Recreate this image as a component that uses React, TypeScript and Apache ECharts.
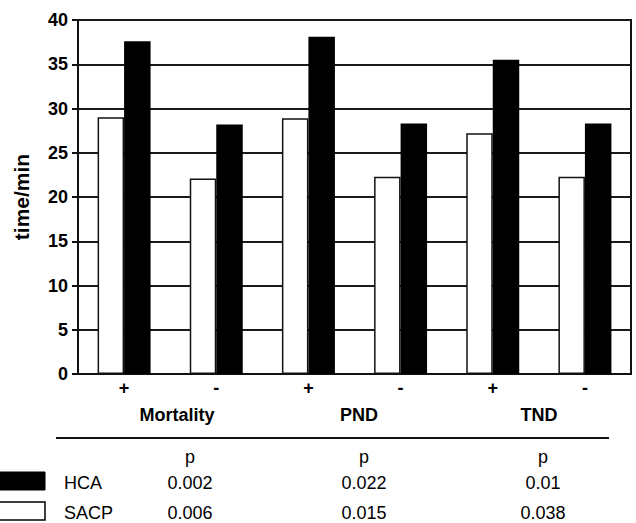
import React, { useEffect, useRef } from "react";
import * as echarts from "echarts";

const categories = ["+", "-", "+", "-", "+", "-"];
const groups = ["Mortality", "PND", "TND"];
const seriesNames = ["SACP", "HCA"];
const sacpValues = [29.0, 22.1, 28.9, 22.3, 27.2, 22.3];
const hcaValues = [37.6, 28.2, 38.1, 28.3, 35.5, 28.3];
const pHeader = ["p", "p", "p"];
const pHCA = ["0.002", "0.022", "0.01"];
const pSACP = ["0.006", "0.015", "0.038"];
const yTicks = { min: 0, max: 40, interval: 5 };

const FONT = "'Liberation Sans', Arial, sans-serif";

export default function App() {
  const ref = useRef<HTMLDivElement>(null);
  useEffect(() => {
    if (!ref.current) return;
    const chart = echarts.init(ref.current, null, { renderer: "svg" });
    const groupX = [177, 359, 539];
    const valX = [190, 364, 543];
    const graphics: any[] = [];
    groups.forEach((g, i) => {
      graphics.push({
        type: "text",
        x: groupX[i],
        y: 415,
        style: { text: g, font: `bold 18px ${FONT}`, fill: "#000", textAlign: "center", textVerticalAlign: "middle" },
      });
      graphics.push({
        type: "text",
        x: valX[i],
        y: 457,
        style: { text: pHeader[i], font: `18px ${FONT}`, fill: "#000", textAlign: "center", textVerticalAlign: "middle" },
      });
      graphics.push({
        type: "text",
        x: valX[i],
        y: 483,
        style: { text: pHCA[i], font: `18px ${FONT}`, fill: "#000", textAlign: "center", textVerticalAlign: "middle" },
      });
      graphics.push({
        type: "text",
        x: valX[i],
        y: 513,
        style: { text: pSACP[i], font: `18px ${FONT}`, fill: "#000", textAlign: "center", textVerticalAlign: "middle" },
      });
    });
    graphics.push({
      type: "line",
      shape: { x1: 56, y1: 438, x2: 609, y2: 438 },
      style: { stroke: "#111", lineWidth: 2 },
    });
    graphics.push({
      type: "text",
      x: 64,
      y: 483,
      style: { text: seriesNames[1], font: `18px ${FONT}`, fill: "#000", textAlign: "left", textVerticalAlign: "middle" },
    });
    graphics.push({
      type: "text",
      x: 64,
      y: 513,
      style: { text: seriesNames[0], font: `18px ${FONT}`, fill: "#000", textAlign: "left", textVerticalAlign: "middle" },
    });
    graphics.push({
      type: "rect",
      shape: { x: -2, y: 472, width: 47, height: 18 },
      style: { fill: "#000", stroke: "#000", lineWidth: 1 },
    });
    graphics.push({
      type: "rect",
      shape: { x: -2, y: 502, width: 47, height: 18 },
      style: { fill: "#fff", stroke: "#000", lineWidth: 1.5 },
    });

    chart.setOption({
      animation: false,
      backgroundColor: "#fff",
      grid: {
        left: 78,
        right: 5,
        top: 20,
        bottom: 149,
        show: true,
        borderColor: "#111",
        borderWidth: 2,
        backgroundColor: "transparent",
      },
      xAxis: {
        type: "category",
        data: categories,
        axisTick: { show: false },
        axisLine: { lineStyle: { color: "#111", width: 2 } },
        axisLabel: { color: "#000", fontFamily: FONT, fontWeight: "bold", fontSize: 18, margin: 5 },
      },
      yAxis: {
        type: "value",
        min: yTicks.min,
        max: yTicks.max,
        interval: yTicks.interval,
        name: "time/min",
        nameLocation: "middle",
        nameGap: 46,
        nameTextStyle: { color: "#000", fontFamily: FONT, fontWeight: "bold", fontSize: 21 },
        axisLine: { show: true, lineStyle: { color: "#111", width: 2 } },
        axisTick: { show: true, length: 6, lineStyle: { color: "#111", width: 2 } },
        axisLabel: { color: "#000", fontFamily: FONT, fontWeight: "bold", fontSize: 18, margin: 10 },
        splitLine: { show: true, lineStyle: { color: "#1a1a1a", width: 2 } },
      },
      series: [
        {
          name: seriesNames[0],
          type: "bar",
          data: sacpValues,
          barWidth: 26.5,
          barGap: "0%",
          itemStyle: { color: "#fff", borderColor: "#111", borderWidth: 1.5 },
        },
        {
          name: seriesNames[1],
          type: "bar",
          data: hcaValues,
          barWidth: 26.5,
          barGap: "0%",
          itemStyle: { color: "#000", borderColor: "#000", borderWidth: 0 },
        },
      ],
      graphic: graphics,
    });
    return () => chart.dispose();
  }, []);
  return (
    <div
      ref={ref}
      style={{ position: "fixed", left: 0, top: 0, width: 636, height: 523, background: "#fff" }}
    />
  );
}
